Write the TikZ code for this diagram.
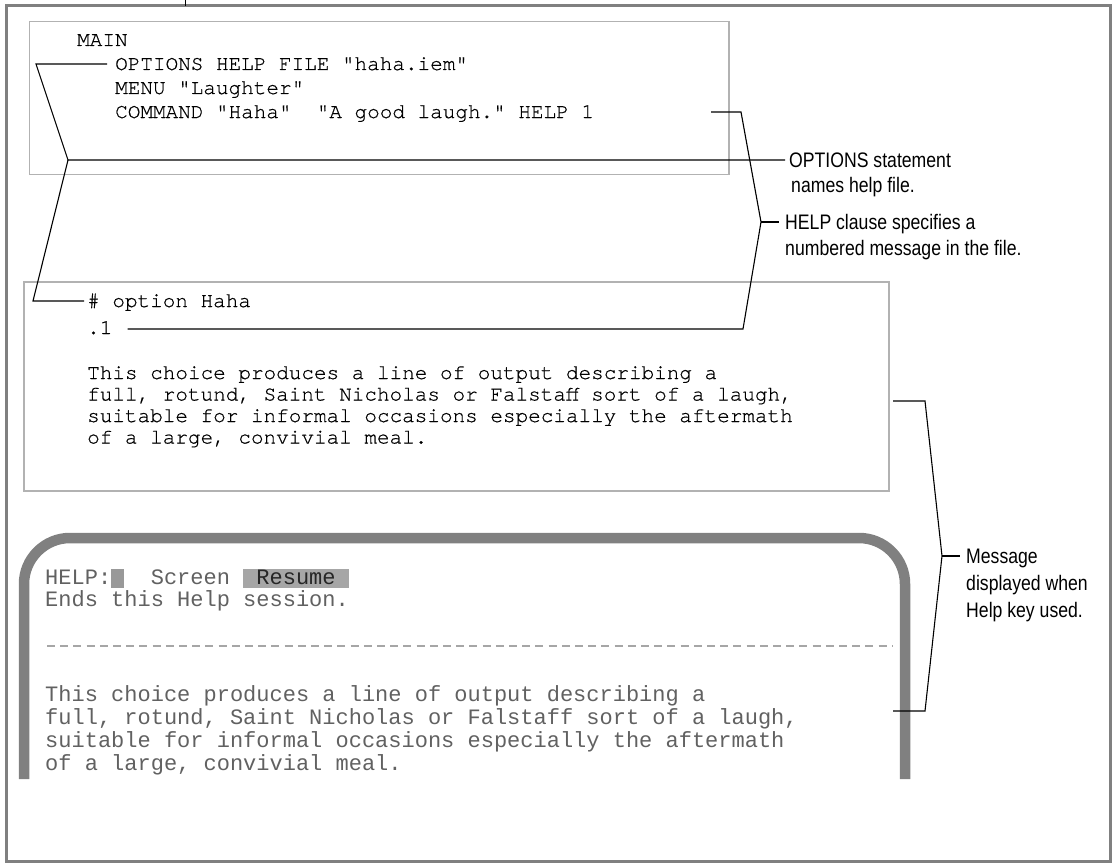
\documentclass[tikz,border=0pt]{standalone}
\usepackage{fontspec}
\usepackage{tikz}
\usetikzlibrary{calc}
\colorlet{framegray}{black!50}
\colorlet{boxgray}{black!30}
\colorlet{scrgray}{black!50}
\colorlet{scrtext}{black!62}
\newfontfamily\codefont[FakeBold=0.6]{TeX Gyre Cursor}
\newfontfamily\scrfont{Liberation Mono}
\newfontfamily\notefont[FakeStretch=0.84]{Liberation Sans}
\def\cw{13.2}

\begin{document}
\begin{tikzpicture}[x=1pt,y=-1pt,
    code/.style={font=\codefont\fontsize{21}{24}\selectfont, inner sep=0pt,
      text height=12pt, text depth=0pt, anchor=west},
    scr/.style={font=\scrfont\fontsize{22}{24}\selectfont, text=scrtext, inner sep=0pt,
      text height=12.5pt, text depth=0pt, anchor=west},
    note/.style={font=\notefont\fontsize{21}{26}\selectfont, inner sep=0pt,
      text height=15pt, text depth=0pt, anchor=west},
    callout/.style={black, line width=1.1pt},
    box/.style={draw=boxgray, line width=1.8pt}]
\useasboundingbox (0,0) rectangle (1118,864);

% frame
\draw[framegray, line width=3pt] (6,6) rectangle (1110,861);
\draw[line width=0.8pt] (185,0) -- (185,6);

% program source
\draw[box] (29.5,21.5) rectangle (729,174.5);
\node[code] (main) at (77,40)  {MAIN};
\node[code] (opt)  at (115,64) {OPTIONS HELP FILE "haha.iem"};
\node[code] (menu) at (115,88) {MENU "Laughter"};
\node[code] (cmd)  at (115,112) {COMMAND "Haha"\ \ "A good laugh." HELP 1};

% help file
\draw[box] (24,282) rectangle (889,491);
\node[code] (hash) at (87,301) {\# option Haha};
\node[code] (dot1) at (87,328) {.1};
\node[code] (txt1) at (87,373) {This choice produces a line of output describing a};
\node[code] (txt2) at (87,394.5) {full, rotund, Saint Nicholas or Falstaff sort of a laugh,};
\node[code] (txt3) at (87,416) {suitable for informal occasions especially the aftermath};
\node[code] (txt4) at (87,437.5) {of a large, convivial meal.};

% help screen
\draw[scrgray, line width=10.5pt, rounded corners=46pt]
    (24,779) -- (24,538) -- (905,538) -- (905,779);
\fill[black!40] ({45+5*\cw},569) rectangle ({45+6*\cw},588);
\fill[black!35] ({45+15*\cw},569) rectangle ({45+23*\cw},588);
\node[scr] (hlp)  at (45,578) {HELP:};
\node[scr] (scrn) at ({45+8*\cw},578) {Screen};
\node[scr, text=black!85] (res) at ({45+16*\cw},578) {Resume};
\node[scr] (ends) at (45,600) {Ends this Help session.};
\draw[black!35, line width=1.6pt, dash pattern=on 8pt off 5.2pt] (47,646) -- (893,646);
\node[scr] (scr1) at (45,695) {This choice produces a line of output describing a};
\node[scr] (scr2) at (45,718) {full, rotund, Saint Nicholas or Falstaff sort of a laugh,};
\node[scr] (scr3) at (45,741) {suitable for informal occasions especially the aftermath};
\node[scr] (scr4) at (45,764) {of a large, convivial meal.};

% notes
\node[note] (optlab1)  at (789,160) {OPTIONS statement};
\node[note] (optlab2)  at (791,185) {names help file.};
\node[note] (helplab1) at (785,222) {HELP clause specifies a};
\node[note] (helplab2) at (785,248) {numbered message in the file.};
\node[note] (msglab1)  at (966,556) {Message};
\node[note] (msglab2)  at (966,583) {displayed when};
\node[note] (msglab3)  at (966,610) {Help key used.};

% callouts
\coordinate (optA) at (36,64);
\coordinate (optK) at (68,160);
\coordinate (optB) at (33,301);
\draw[callout] ([xshift=-8pt]opt.west) -- (optA) -- (optK) -- ([xshift=-4pt]optlab1.west);
\draw[callout] (optK) -- (optB) -- ([xshift=-3pt]hash.west);

\coordinate (helpS) at (711,112);
\coordinate (helpA) at (741,112);
\coordinate (helpK) at (761,222);
\coordinate (helpB) at (743,329);
\draw[callout] (helpS) -- (helpA) -- (helpK) -- (helpB) -- ([xshift=15pt]dot1.east |- helpB);
\draw[callout] (helpK) -- ([xshift=-6pt]helplab1.west);

\coordinate (msgS) at (893,401);
\coordinate (msgA) at (925,401);
\coordinate (msgK) at (942,556);
\coordinate (msgB) at (925,711);
\coordinate (msgE) at (893,711);
\draw[callout] (msgS) -- (msgA) -- (msgK) -- (msgB) -- (msgE);
\draw[callout] (msgK) -- ([xshift=-6pt]msglab1.west);
\end{tikzpicture}
\end{document}
